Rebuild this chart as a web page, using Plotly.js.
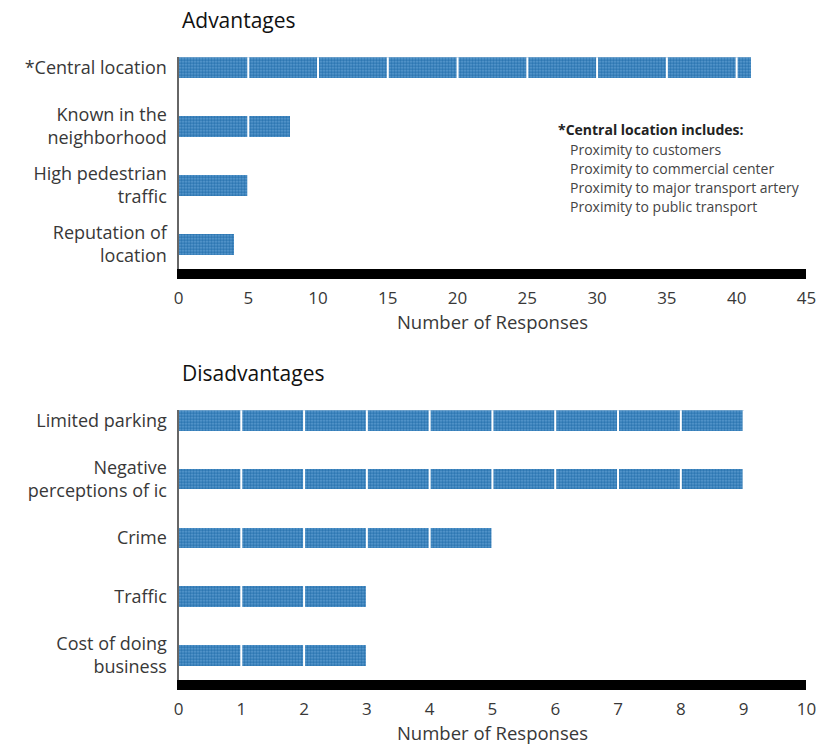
<!DOCTYPE html>
<html>
<head>
<meta charset="utf-8">
<script src="https://cdn.plot.ly/plotly-3.0.1.min.js"></script>
<style>
  html, body { margin: 0; padding: 0; background: #fff; }
  #chart { width: 835px; height: 747px; }
</style>
</head>
<body>
<div id="chart"></div>
<script>
// Survey responses: advantages and disadvantages of the business location
const advCategories = ['*Central location', 'Known in the<br>neighborhood', 'High pedestrian<br>traffic', 'Reputation of<br>location'];
const advValues = [41, 8, 5, 4];
const advTicks = [0, 5, 10, 15, 20, 25, 30, 35, 40, 45];

const disCategories = ['Limited parking', 'Negative<br>perceptions of ic', 'Crime', 'Traffic', 'Cost of doing<br>business'];
const disValues = [9, 9, 5, 3, 3];
const disTicks = [0, 1, 2, 3, 4, 5, 6, 7, 8, 9, 10];

const noteLines = [
  '<b>*Central location includes:</b>',
  'Proximity to customers',
  'Proximity to commercial center',
  'Proximity to major transport artery',
  'Proximity to public transport'
];

const FONT = 'Open Sans, Noto Sans, sans-serif';
const TEXT = '#383838';
const BAR_BG = '#2a74b0';
const BAR_FG = '#6eaadb';

function barTrace(cats, vals, xa, ya) {
  return {
    type: 'bar',
    orientation: 'h',
    y: cats,
    x: vals,
    xaxis: xa,
    yaxis: ya,
    width: 0.35,
    marker: {
      color: BAR_BG,
      line: { width: 0 },
      pattern: { shape: '.', bgcolor: BAR_BG, fgcolor: BAR_FG, size: 3, solidity: 0.3 }
    },
    hoverinfo: 'x+y',
    showlegend: false
  };
}

function xAxis(ticks, domainAnchor) {
  return {
    domain: [178.5 / 835, 806.4 / 835],
    anchor: domainAnchor,
    range: [ticks[0], ticks[ticks.length - 1]],
    tickvals: ticks,
    ticktext: ticks.map(String),
    showgrid: false,
    zeroline: false,
    showline: true,
    linecolor: '#000',
    linewidth: 10,
    ticks: '',
    ticklabelstandoff: 5,
    tickfont: { family: FONT, size: 17, color: TEXT },
    title: { text: 'Number of Responses', font: { family: FONT, size: 18.5, color: TEXT }, standoff: 2 },
    fixedrange: true
  };
}

function yAxis(cats, top, bottom, anchor) {
  return {
    domain: [1 - bottom / 747, 1 - top / 747],
    anchor: anchor,
    type: 'category',
    categoryorder: 'array',
    categoryarray: cats,
    range: [cats.length - 1 + 0.42, -0.17],
    showgrid: false,
    zeroline: false,
    showline: true,
    linecolor: '#666',
    linewidth: 2,
    ticks: '',
    ticklabelstandoff: 6,
    tickfont: { family: FONT, size: 18, color: TEXT },
    fixedrange: true
  };
}

// White separators across the bars at each labelled tick
function tickSeparators(ticks, xref, yref) {
  return ticks.slice(1, -1).map(t => ({
    type: 'line', xref: xref, yref: yref + ' domain',
    x0: t, x1: t, y0: 0, y1: 1,
    line: { color: '#ffffff', width: 2 },
    layer: 'above'
  }));
}

const data = [
  barTrace(advCategories, advValues, 'x', 'y'),
  barTrace(disCategories, disValues, 'x2', 'y2')
];

const annotations = [
  { text: 'Advantages', xref: 'paper', yref: 'paper', x: 180 / 835, y: 1 - 20 / 747,
    xanchor: 'left', yanchor: 'middle', showarrow: false,
    font: { family: FONT, size: 21, color: '#111' } },
  { text: 'Disadvantages', xref: 'paper', yref: 'paper', x: 180 / 835, y: 1 - 373 / 747,
    xanchor: 'left', yanchor: 'middle', showarrow: false,
    font: { family: FONT, size: 21, color: '#111' } }
];
noteLines.forEach((line, i) => {
  annotations.push({
    text: line,
    xref: 'paper', yref: 'paper',
    x: (i === 0 ? 556 : 568) / 835,
    y: 1 - (130 + i * 19) / 747,
    xanchor: 'left', yanchor: 'middle', showarrow: false,
    font: { family: FONT, size: 14, color: i === 0 ? '#222' : '#444' }
  });
});

const layout = {
  width: 835,
  height: 747,
  margin: { l: 0, r: 0, t: 0, b: 0 },
  paper_bgcolor: '#ffffff',
  plot_bgcolor: '#ffffff',
  bargap: 0,
  xaxis: xAxis(advTicks, 'y'),
  yaxis: yAxis(advCategories, 57.3, 269, 'x'),
  xaxis2: xAxis(disTicks, 'y2'),
  yaxis2: yAxis(disCategories, 410.3, 680, 'x2'),
  shapes: tickSeparators(advTicks, 'x', 'y').concat(tickSeparators(disTicks, 'x2', 'y2')),
  annotations: annotations
};

Plotly.newPlot('chart', data, layout, { displayModeBar: false, staticPlot: true });
</script>
</body>
</html>
